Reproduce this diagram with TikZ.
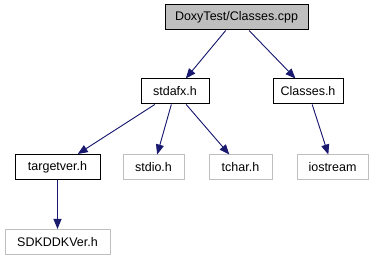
\documentclass[tikz,border=0pt]{standalone}
\usepackage{xcolor}
\usepackage{fontspec}
\setmainfont{Liberation Sans}
\usepackage{tikz}
\usetikzlibrary{arrows.meta}

\definecolor{edgeblue}{HTML}{191970}
\definecolor{greyline}{HTML}{BFBFBF}

\begin{document}
\begin{tikzpicture}[
  x=1pt, y=-1pt,
  file/.style={draw, fill=white, line width=1pt, minimum height=25pt, inner sep=0pt, font=\fontsize{12.5}{15}\selectfont},
  main/.style={file, fill=greyline},
  ext/.style={file, draw=greyline},
  arr/.style={-{Triangle[length=10pt, width=8pt]}, draw=edgeblue, fill=edgeblue, line width=0.9pt}
]
  \useasboundingbox (0,0) rectangle (375,261);

  \node[main, minimum width=143pt] (cpp) at (236.5,17.5) {DoxyTest/Classes.cpp};
  \node[file, minimum width=68pt] (stdafx) at (175,91.5) {stdafx.h};
  \node[file, minimum width=70pt] (classesh) at (308,91.5) {Classes.h};
  \node[file, minimum width=85pt] (targetver) at (57.5,167) {targetver.h};
  \node[ext, minimum width=61pt] (stdio) at (153.5,167.5) {stdio.h};
  \node[ext, minimum width=63pt] (tchar) at (240.5,167.5) {tchar.h};
  \node[ext, minimum width=71pt] (iostream) at (332.5,167.5) {iostream};
  \node[ext, minimum width=105pt] (sdkver) at (57.5,242) {SDKDDKVer.h};

  \draw[arr] (cpp) -- (stdafx);
  \draw[arr] (cpp) -- (classesh);
  \draw[arr] (stdafx) -- (targetver);
  \draw[arr] (stdafx) -- (stdio);
  \draw[arr] (stdafx) -- (tchar);
  \draw[arr] (classesh) -- (iostream);
  \draw[arr] (targetver) -- (sdkver);
\end{tikzpicture}
\end{document}
